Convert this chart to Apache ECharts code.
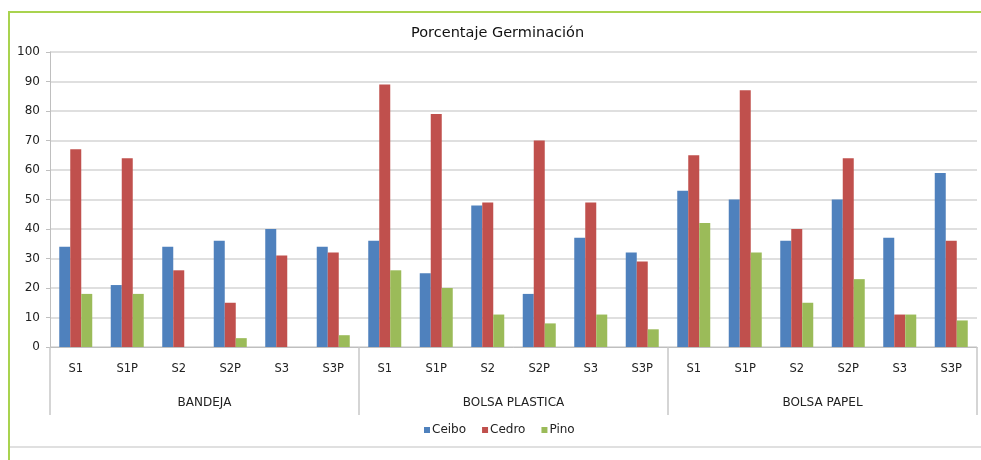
<!DOCTYPE html>
<html>
<head>
<meta charset="utf-8">
<title>Porcentaje Germinación</title>
<script src="https://cdn.jsdelivr.net/npm/echarts@6/dist/echarts.min.js"></script>
<style>
  html, body { margin: 0; padding: 0; background: #ffffff; }
  #wrap { position: relative; width: 981px; height: 460px; overflow: hidden; }
  #frame { position: absolute; left: 8px; top: 11px; right: -4px; bottom: -4px;
           border-left: 2px solid #a9d34f; border-top: 2px solid #a9d34f; }
  #rule { position: absolute; left: 10px; right: 0; top: 446px; height: 2px; background: #e0e0e0; }
  #chart { position: absolute; left: 0; top: 0; width: 981px; height: 460px; }
</style>
</head>
<body>
<div id="wrap">
  <div id="frame"></div>
  <div id="rule"></div>
  <div id="chart"></div>
</div>
<script>
// Germination percentage by treatment, for three container types
const groups = ['BANDEJA', 'BOLSA PLASTICA', 'BOLSA PAPEL'];
const treatments = ['S1', 'S1P', 'S2', 'S2P', 'S3', 'S3P'];
const seriesNames = ['Ceibo', 'Cedro', 'Pino'];

// Values per container, in treatment order S1, S1P, S2, S2P, S3, S3P
const ceibo = [34, 21, 34, 36, 40, 34,   36, 25, 48, 18, 37, 32,   53, 50, 36, 50, 37, 59];
const cedro = [67, 64, 26, 15, 31, 32,   89, 79, 49, 70, 49, 29,   65, 87, 40, 64, 11, 36];
const pino  = [18, 18,  0,  3,  0,  4,   26, 20, 11,  8, 11,  6,   42, 32, 15, 23, 11,  9];

const yTicks = { min: 0, max: 100, interval: 10 };
const colors = ['#4f81bd', '#c0504d', '#9bbb59'];

// One category per (container, treatment) pair
const categories = [];
groups.forEach(() => treatments.forEach(t => categories.push(t)));

const font = 'DejaVu Sans, Verdana, sans-serif';
const chart = echarts.init(document.getElementById('chart'), null, { renderer: 'canvas' });

chart.setOption({
  animation: false,
  color: colors,
  textStyle: { fontFamily: font },
  title: {
    text: 'Porcentaje Germinación',
    left: 406,
    top: 21,
    textStyle: { fontFamily: font, fontSize: 14.5, fontWeight: 'normal', color: '#111' }
  },
  legend: {
    data: seriesNames,
    bottom: 19,
    left: 419,
    icon: 'rect',
    itemWidth: 6,
    itemHeight: 6,
    itemGap: 16,
    textStyle: { fontFamily: font, fontSize: 12, color: '#222', padding: [0, 0, 0, -3] }
  },
  grid: { left: 50, right: 4, top: 52, bottom: 113, containLabel: false },
  xAxis: [
    {
      type: 'category',
      data: categories,
      axisLine: { show: true, lineStyle: { color: '#bfbfbf', width: 1 } },
      axisTick: { show: false },
      axisLabel: { interval: 0, margin: 16, fontSize: 11.5, color: '#222', fontFamily: font }
    },
    {
      type: 'category',
      data: groups,
      position: 'bottom',
      axisLine: { show: false },
      axisTick: { show: true, length: 68, interval: 0, lineStyle: { color: '#c8c8c8', width: 1.5 } },
      axisLabel: { interval: 0, margin: 50, fontSize: 12, color: '#222', fontFamily: font },
      splitLine: { show: false }
    }
  ],
  yAxis: {
    type: 'value',
    min: yTicks.min,
    max: yTicks.max,
    interval: yTicks.interval,
    axisLine: { show: true, lineStyle: { color: '#bfbfbf' } },
    axisTick: { show: true, length: 4, lineStyle: { color: '#bfbfbf' } },
    axisLabel: { fontSize: 12, color: '#222', margin: 10, fontFamily: font },
    splitLine: { lineStyle: { color: '#d4d4d4', width: 1.5 } }
  },
  series: [
    { name: seriesNames[0], type: 'bar', data: ceibo, barWidth: 11, barGap: '0%', xAxisIndex: 0 },
    { name: seriesNames[1], type: 'bar', data: cedro, barWidth: 11, barGap: '0%', xAxisIndex: 0 },
    { name: seriesNames[2], type: 'bar', data: pino,  barWidth: 11, barGap: '0%', xAxisIndex: 0 }
  ]
});
</script>
</body>
</html>
